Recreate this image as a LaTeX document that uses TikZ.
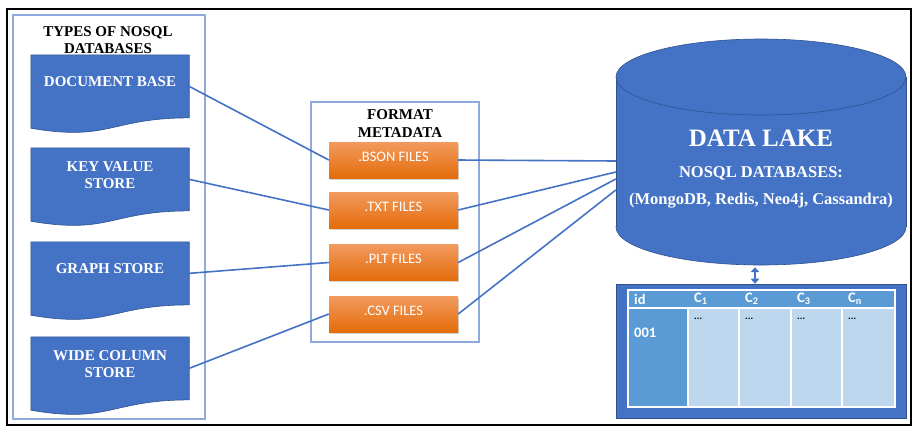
\documentclass[tikz,border=0pt]{standalone}
\usepackage{fontspec}
\setmainfont{Liberation Serif}
\newfontfamily\calfont{Carlito}
\usetikzlibrary{calc,arrows.meta,shadows}
\definecolor{mblue}{HTML}{4472C4}
\definecolor{dblue}{HTML}{2F528F}
\definecolor{pblue}{HTML}{8FAADC}
\definecolor{otop}{HTML}{F29A5E}
\definecolor{obot}{HTML}{E46C0A}
\definecolor{hblue}{HTML}{5B9BD5}
\definecolor{cblue}{HTML}{BDD7EE}
\begin{document}
\begin{tikzpicture}[x=1pt,y=-1pt,
  panel/.style={draw=pblue, line width=1.2pt, inner sep=0pt},
  docnode/.style={minimum width=158pt, minimum height=62.7pt, inner sep=0pt},
  docshape/.style={fill=mblue, draw=dblue, line width=0.6pt},
  doclabel/.style={text=white, font=\fontsize{15}{17}\selectfont\bfseries, align=center},
  fileb/.style={minimum width=129pt, minimum height=36pt, inner sep=0pt,
    top color=otop, bottom color=obot,
    drop shadow={opacity=0.35, shadow xshift=1pt, shadow yshift=-1.5pt}},
  filelbl/.style={text=white, font=\calfont\fontsize{14.5}{16}\selectfont},
  link/.style={draw=mblue, line width=1.6pt},
  ttl/.style={font=\fontsize{15}{16.5}\selectfont\bfseries, align=center},
  lake/.style={text=white, font=\bfseries},
  tbltxt/.style={text=white, font=\calfont\bfseries\fontsize{14.5}{16}\selectfont, anchor=west, inner sep=0pt},
  dots/.style={text=black, font=\calfont\bfseries\fontsize{10}{12}\selectfont, anchor=west, inner sep=0pt}
]
\useasboundingbox (0,0) rectangle (913,432);
\draw[black, line width=1.6pt] (7,9) rectangle (911,425);

% left panel
\node[panel, minimum width=192pt, minimum height=404pt] (lp) at (109,217) {};
\node[ttl] (tt) at (108,40) {TYPES OF NOSQL\\DATABASES};

\node[docnode] (d1) at (110,86.35) {};
\node[docnode] (d2) at (110,179.35) {};
\node[docnode] (d3) at (110,273.35) {};
\node[docnode] (d4) at (110,368.35) {};
\foreach \d in {d1,d2,d3,d4}{
  \path[docshape] (\d.north west) -- (\d.north east) -- (\d.south east)
    .. controls (\d.south) and ($(\d.south)+(0,23.9)$) .. ($(\d.south west)+(0,10.3)$) -- cycle;
}
\node[doclabel] (t1) at ($(d1)+(0,-4.5)$) {DOCUMENT BASE};
\node[doclabel] (t2) at ($(d2)+(0,-4.5)$) {KEY VALUE\\STORE};
\node[doclabel] (t3) at ($(d3)+(0,-4.5)$) {GRAPH STORE};
\node[doclabel] (t4) at ($(d4)+(0,-4.5)$) {WIDE COLUMN\\STORE};

% middle panel
\node[panel, minimum width=168pt, minimum height=240pt] (mp) at (395,222) {};
\node[ttl, font=\fontsize{15}{18}\selectfont\bfseries] (ft) at (400,124) {FORMAT\\METADATA};
\node[fileb, label={[filelbl, yshift=3.5pt]center:.BSON FILES}] (f1) at (393.5,160) {};
\node[fileb, label={[filelbl, yshift=3.5pt]center:.TXT FILES}] (f2) at (393.5,210) {};
\node[fileb, label={[filelbl, yshift=3.5pt]center:.PLT FILES}] (f3) at (393.5,262.5) {};
\node[fileb, label={[filelbl, yshift=3.5pt]center:.CSV FILES}] (f4) at (393.5,314) {};

% data lake cylinder
\node[minimum width=290pt, minimum height=226pt, inner sep=0pt] (cyl) at (761,152) {};
\filldraw[fill=mblue, draw=dblue, line width=0.6pt] (761,227) ellipse [x radius=145pt, y radius=38pt];
\fill[mblue] (616,77) rectangle (906,227);
\draw[dblue, line width=0.6pt] (616,77) -- (616,227) (906,77) -- (906,227);
\filldraw[fill=mblue, draw=dblue, line width=0.6pt] (761,77) ellipse [x radius=145pt, y radius=38pt];
\node[lake, font=\fontsize{25}{28}\selectfont\bfseries] (dl) at (761,138) {DATA LAKE};
\node[lake, font=\fontsize{16.5}{19}\selectfont\bfseries] (ns) at (761,173) {NOSQL DATABASES:};
\node[lake, font=\fontsize{16.5}{19}\selectfont\bfseries] (ex) at (761,201) {(MongoDB, Redis, Neo4j, Cassandra)};

% connectors
\draw[link] (d1.east) -- (f1.west);
\draw[link] (d2.east) -- (f2.west);
\draw[link] (d3.east) -- (f3.west);
\draw[link] (d4.east) -- (f4.west);
\draw[link] (f1.east) -- ($(cyl.west)+(0,9)$);
\draw[link] (f2.east) -- ($(cyl.west)+(0,20)$);
\draw[link] (f3.east) -- ($(cyl.west)+(0,27)$);
\draw[link] (f4.east) -- ($(cyl.west)+(0,38)$);

% table
\node[fill=mblue, draw=dblue, line width=0.6pt, minimum width=290pt, minimum height=134pt, inner sep=0pt] (tbl) at (761,351) {};
\fill[hblue] (628,290) rectangle (895,308);
\fill[hblue] (628,308) rectangle (688,407);
\fill[cblue] (688,308) rectangle (895,407);
\draw[white, line width=1.2pt] (628,290) rectangle (895,407);
\draw[white, line width=1.2pt] (628,308) -- (895,308);
\foreach \x in {688,739,791,842}{\draw[white, line width=1.2pt] (\x,308) -- (\x,407);}
\node[tbltxt] (hid) at (634,299) {id};
\node[tbltxt] (hc1) at (694,299) {C\textsubscript{1}};
\node[tbltxt] (hc2) at (745,299) {C\textsubscript{2}};
\node[tbltxt] (hc3) at (797,299) {C\textsubscript{3}};
\node[tbltxt] (hcn) at (848,299) {C\textsubscript{n}};
\node[tbltxt] (r1) at (634,333) {001};
\node[dots] (v1) at (694,319) {...};
\node[dots] (v2) at (745,319) {...};
\node[dots] (v3) at (797,319) {...};
\node[dots] (v4) at (848,319) {...};

\draw[{Triangle[width=8.5pt,length=5pt]}-{Triangle[width=8.5pt,length=5pt]}, mblue, line width=2.6pt]
  ($(cyl.south)+(-6,2)$) -- ($(tbl.north)+(-6,0)$);
\end{tikzpicture}
\end{document}
